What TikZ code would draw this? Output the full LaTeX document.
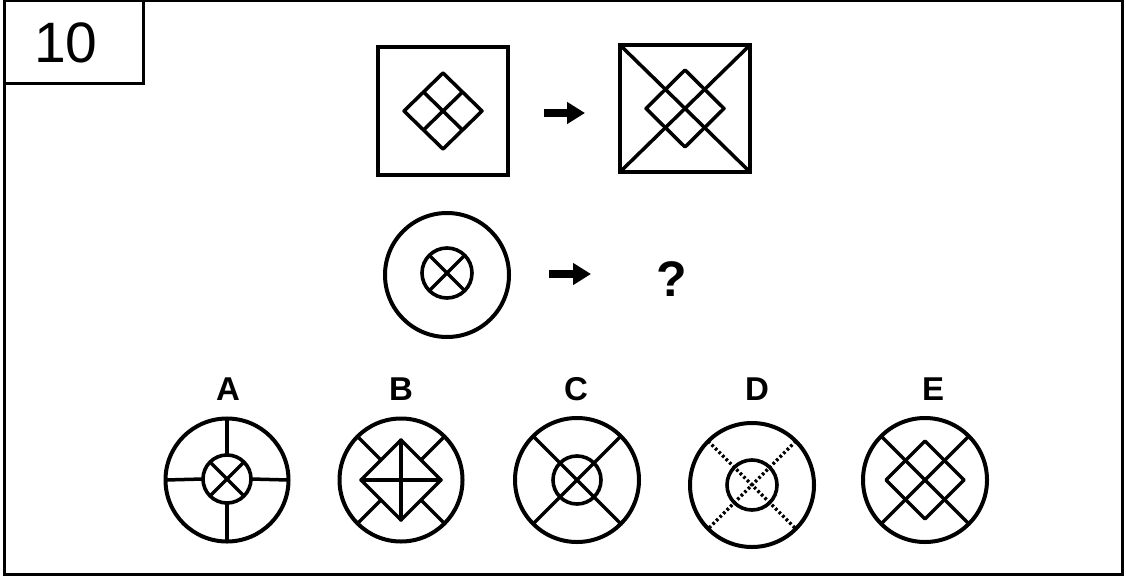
\documentclass[tikz,border=0pt]{standalone}
\usepackage{fontspec}
\setmainfont{Liberation Sans}
\usetikzlibrary{arrows.meta,positioning}

\begin{document}
\begin{tikzpicture}[x=1pt,y=-1pt,
    frame/.style={line width=3pt},
    outline/.style={draw, line width=4pt, inner sep=0pt, outer sep=0pt},
    ring/.style={outline, circle, minimum size=123pt},
    core/.style={outline, circle, line width=3.6pt, minimum size=48pt},
    stroke/.style={line width=3.5pt, line cap=round, line join=round},
    dots/.style={line width=3.4pt, dash pattern=on 2.6pt off 2.4pt},
    arrow/.style={line width=7.5pt, -{Triangle[length=18pt,width=21pt]}},
    tag/.style={font=\bfseries\fontsize{33}{33}\selectfont}
]
\useasboundingbox (0,0) rectangle (1126,578);

% Frame and number box
\draw[line width=1.2pt] (4,1) -- (1122,1);
\draw[frame] (4,0) -- (4,574) -- (1122,574) -- (1122,0);
\draw[frame] (4,83) -- (143,83) -- (143,0);
\node[font=\fontsize{57}{57}\selectfont] (num) at (66,43) {10};

% Top row: square with diamond grid -> square with diagonals
\node[outline, minimum width=130pt, minimum height=128pt] (sqA) at (443,111) {};
\draw[stroke] (404,111) -- (443,73) -- (482,111) -- (443,149) -- cycle;
\draw[stroke] (423.5,92) -- (462.5,130);
\draw[stroke] (423.5,130) -- (462.5,92);

\node[outline, minimum width=130pt, minimum height=127pt] (sqB) at (685,108.5) {};
\draw[stroke] (sqB.north west) -- (sqB.south east);
\draw[stroke] (sqB.south west) -- (sqB.north east);
\draw[stroke] (646,108.5) -- (685,70) -- (724,108.5) -- (685,147) -- cycle;

\coordinate (a1s) at (544,113);
\coordinate (a1e) at (585,113);
\draw[arrow] (a1s) -- (a1e);

% Middle row: circle -> ?
\node[ring, minimum size=124pt] (cirQ) at (447,275) {};
\node[core, minimum size=50pt] (cirQin) at (447,273) {};
\draw[stroke] (cirQin.45) -- (cirQin.225);
\draw[stroke] (cirQin.135) -- (cirQin.315);

\coordinate (a2s) at (549,274);
\coordinate (a2e) at (591,274);
\draw[arrow] (a2s) -- (a2e);
\node[font=\bfseries\fontsize{50}{50}\selectfont] (qm) at (672,279) {?};

% Answer labels
\foreach \l/\x in {A/228,B/401,C/576,D/757,E/933}
    \node[tag] (lab\l) at (\x,389) {\l};

% A: plus from inner circle to rim
\node[ring] (optA) at (227,480) {};
\node[core] (optAin) at (227,479) {};
\draw[stroke] (optAin.45) -- (optAin.225);
\draw[stroke] (optAin.135) -- (optAin.315);
\draw[stroke] (optAin.north) -- (optA.north);
\draw[stroke] (optAin.south) -- (optA.south);
\draw[stroke] (optAin.west) -- (optA.west);
\draw[stroke] (optAin.east) -- (optA.east);

% B: diamond with cross, diagonals outside it
\node[ring] (optB) at (401,480) {};
\draw[stroke] (361,480) -- (401,440) -- (441,480) -- (401,520) -- cycle;
\draw[stroke] (401,440) -- (401,520);
\draw[stroke] (361,480) -- (441,480);
\draw[stroke] (381,460) -- (optB.135);
\draw[stroke] (421,460) -- (optB.45);
\draw[stroke] (381,500) -- (optB.225);
\draw[stroke] (421,500) -- (optB.315);

% C: inner circle crossed by full diagonals
\node[ring, minimum size=124pt] (optC) at (577,480) {};
\node[core] (optCin) at (577,480) {};
\draw[stroke] (optC.45) -- (optC.225);
\draw[stroke] (optC.135) -- (optC.315);

% D: dotted diagonals
\node[ring, minimum size=124pt] (optD) at (752,485) {};
\node[core, minimum size=50pt] (optDin) at (752,485) {};
\draw[dots] (optD.45) -- (optD.225);
\draw[dots] (optD.135) -- (optD.315);

% E: diamond grid on full diagonals
\node[ring, minimum size=124pt] (optE) at (925,480) {};
\draw[stroke] (optE.45) -- (optE.225);
\draw[stroke] (optE.135) -- (optE.315);
\draw[stroke] (886,480) -- (925,441) -- (964,480) -- (925,519) -- cycle;

\end{tikzpicture}
\end{document}
